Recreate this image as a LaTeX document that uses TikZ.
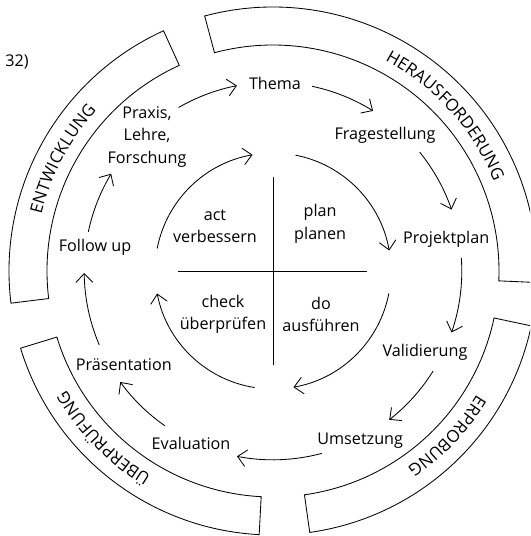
\documentclass[tikz,border=0pt]{standalone}
\usepackage{fontspec}
\setmainfont{Open Sans}
\usetikzlibrary{arrows.meta,decorations.text}

\tikzset{
  lbl/.style={font=\fontsize{11.5}{16}\selectfont, align=center},
  cyc/.style={-{Straight Barb[length=2.2mm,width=4.2mm]}, line width=0.6pt},
  band/.style={line width=0.6pt},
  bandlbl/.style={decorate, decoration={text along path, text align=center, text={|\fontsize{12}{14}\selectfont|#1}}}
}

\begin{document}
\begin{tikzpicture}
       \useasboundingbox (-6.825,-6.625) rectangle (6.425,6.775);
       \clip (-6.825,-6.625) rectangle (6.425,6.775);
       % outer bands
       \draw [band] (-2.5:5.65) arc[start angle=-2.5,end angle=105,radius=5.65] -- (105:6.6) arc[start angle=105,end angle=-2.5,radius=6.6] -- cycle;
       \draw [band] (114.5:5.65) arc[start angle=114.5,end angle=187,radius=5.65] -- (187:6.6) arc[start angle=187,end angle=114.5,radius=6.6] -- cycle;
       \draw [band] (197:5.65) arc[start angle=197,end angle=267,radius=5.65] -- (267:6.6) arc[start angle=267,end angle=197,radius=6.6] -- cycle;
       \draw [band] (278:5.65) arc[start angle=278,end angle=348,radius=5.65] -- (348:6.6) arc[start angle=348,end angle=278,radius=6.6] -- cycle;
       \path [bandlbl=HERAUSFORDERUNG] (82:5.96) arc[start angle=82,end angle=2,radius=5.96];
       \path [bandlbl=ENTWICKLUNG] (192:5.96) arc[start angle=192,end angle=112,radius=5.96];
       \path [bandlbl=ERPROBUNG] (-3.5:5.96) arc[start angle=-3.5,end angle=-83.5,radius=5.96];
       \path [bandlbl=ÜBERPRÜFUNG] (264.6:5.96) arc[start angle=264.6,end angle=184.6,radius=5.96];
       % steps
       \node [lbl] (thema) at (0.05,4.7) {Thema};
       \node [lbl] (frage) at (2.8,3.4) {Fragestellung};
       \node [lbl] (projekt) at (4.33,0.78) {Projektplan};
       \node [lbl] (valid) at (3.8,-2.03) {Validierung};
       \node [lbl] (umsetz) at (2.18,-4.23) {Umsetzung};
       \node [lbl] (eval) at (-2.05,-4.3) {Evaluation};
       \node [lbl] (praes) at (-3.73,-2.35) {Präsentation};
       \node [lbl] (follow) at (-4.45,0.58) {Follow up};
       \node [lbl] (praxis) at (-3.15,3.35) {Praxis,\\Lehre,\\Forschung};
       \node [lbl, anchor=west, inner sep=0pt] (nr) at (-6.7,5.22) {32)};
       \draw [cyc] (120:4.72) arc[start angle=120,end angle=101,radius=4.72];
       \draw [cyc] (78:4.72) arc[start angle=78,end angle=58,radius=4.72];
       \draw [cyc] (39:4.72) arc[start angle=39,end angle=19,radius=4.72];
       \draw [cyc] (4:4.72) arc[start angle=4,end angle=-19,radius=4.72];
       \draw [cyc] (-32:4.72) arc[start angle=-32,end angle=-52,radius=4.72];
       \draw [cyc] (-75:4.72) arc[start angle=-75,end angle=-101,radius=4.72];
       \draw [cyc] (-125:4.72) arc[start angle=-125,end angle=-144,radius=4.72];
       \draw [cyc] (-157:4.72) arc[start angle=-157,end angle=-179.4,radius=4.72];
       \draw [cyc] (168:4.72) arc[start angle=168,end angle=149,radius=4.72];
       % PDCA
       \draw (0,2.35) -- (0,-2.35);
       \draw (-2.38,0) -- (2.36,0);
       \node [lbl] (act) at (-1.45,1.12) {act\\verbessern};
       \node [lbl] (plan) at (1.18,1.18) {plan\\planen};
       \node [lbl] (check) at (-1.25,-1.08) {check\\überprüfen};
       \node [lbl] (do) at (1.2,-1.08) {do\\ausführen};
       \draw [cyc] (169:2.95) arc[start angle=169,end angle=100,radius=2.95];
       \draw [cyc] (79:2.95) arc[start angle=79,end angle=10,radius=2.95];
       \draw [cyc] (-11:2.95) arc[start angle=-11,end angle=-80,radius=2.95];
       \draw [cyc] (-99:2.95) arc[start angle=-99,end angle=-169,radius=2.95];
\end{tikzpicture}
\end{document}
